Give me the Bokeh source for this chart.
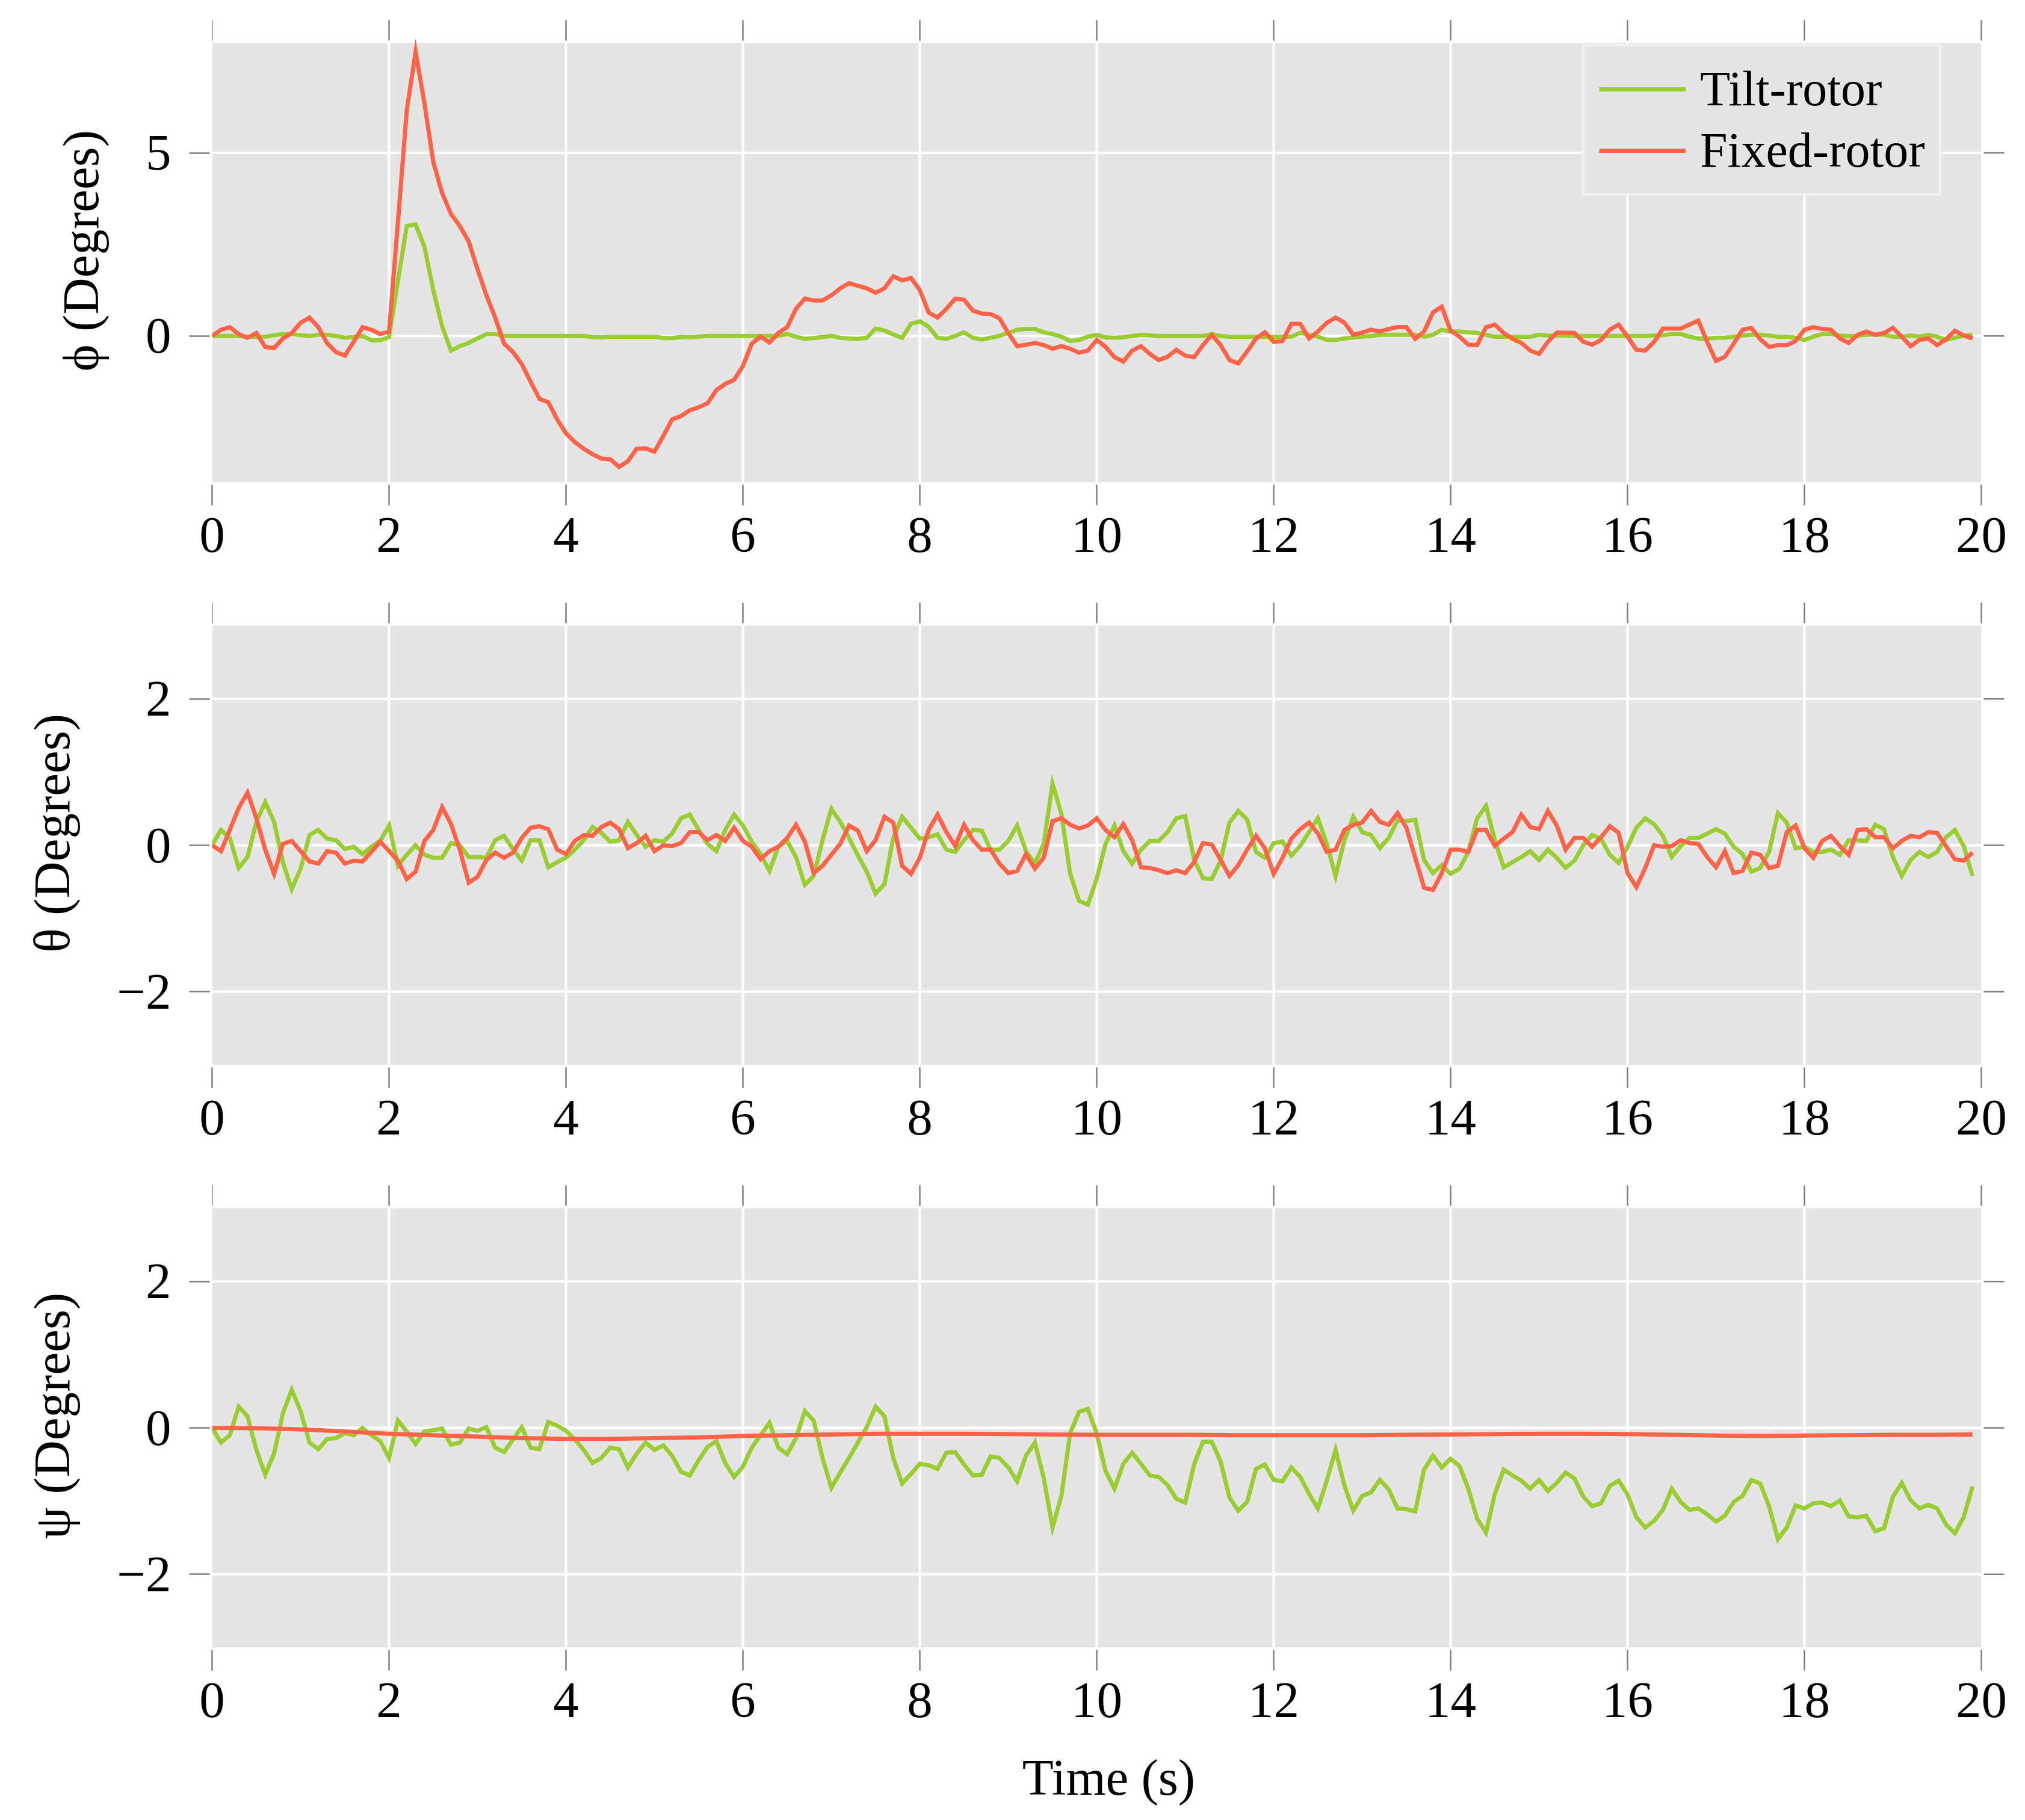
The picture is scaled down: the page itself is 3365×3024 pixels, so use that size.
from bokeh.plotting import figure
from bokeh.layouts import column
from bokeh.models import FixedTicker, Range1d
from bokeh.embed import file_html
from bokeh.resources import INLINE

# ---------------- data ----------------
time_s = [round(0.1 * i, 1) for i in range(200)]

x_limits = [0, 20]
x_ticks = [0, 2, 4, 6, 8, 10, 12, 14, 16, 18, 20]
x_tick_labels = ["0", "2", "4", "6", "8", "10", "12", "14", "16", "18", "20"]
phi_limits = [-4, 8]
phi_ticks = [0, 5]
phi_tick_labels = ["0", "5"]
angle_limits = [-3, 3]
angle_ticks = [-2, 0, 2]
angle_tick_labels = ["\u22122", "0", "2"]

series_names = ["Tilt-rotor", "Fixed-rotor"]

phi_tilt = [
    0.0, 0.0, 0.0, 0.0, -0.02, -0.03, -0.02, 0.02, 0.05, 0.05,
    0.02, 0.0, 0.03, 0.03, 0.0, -0.05, -0.03, 0.0, -0.12, -0.12,
    -0.03, 1.5, 3.0, 3.05, 2.43, 1.25, 0.26, -0.4, -0.28, -0.19,
    -0.07, 0.05, 0.05, 0.0, 0.0, 0.0, 0.0, 0.0, 0.0, 0.0,
    0.0, 0.0, 0.0, -0.03, -0.04, -0.02, -0.02, -0.02, -0.02, -0.02,
    -0.02, -0.06, -0.06, -0.03, -0.04, -0.02, 0.0, 0.0, 0.0, 0.0,
    0.0, 0.0, 0.0, 0.0, 0.0, 0.05, -0.02, -0.08, -0.06, -0.03,
    0.0, -0.05, -0.07, -0.08, -0.05, 0.2, 0.15, 0.04, -0.05, 0.33,
    0.4, 0.25, -0.05, -0.08, 0.0, 0.1, -0.05, -0.1, -0.05, 0.0,
    0.08, 0.17, 0.19, 0.19, 0.1, 0.05, -0.02, -0.14, -0.11, -0.02,
    0.03, -0.04, -0.05, -0.04, 0.0, 0.03, 0.02, 0.0, 0.0, 0.0,
    0.0, 0.0, 0.0, 0.05, 0.0, -0.02, -0.02, -0.02, -0.02, -0.02,
    -0.02, -0.02, -0.02, 0.09, 0.03, -0.02, -0.11, -0.11, -0.07, -0.04,
    -0.02, 0.0, 0.03, 0.03, 0.03, 0.03, 0.03, -0.02, 0.03, 0.17,
    0.12, 0.12, 0.1, 0.08, 0.03, -0.02, -0.02, -0.02, -0.02, -0.02,
    0.03, 0.01, 0.01, 0.01, 0.0, 0.0, 0.0, 0.0, 0.0, 0.0,
    0.0, 0.0, 0.0, 0.01, 0.02, 0.05, 0.05, -0.02, -0.07, -0.07,
    -0.05, -0.05, -0.02, 0.01, 0.03, 0.03, 0.01, -0.02, -0.02, -0.05,
    -0.11, -0.02, 0.05, 0.05, 0.01, 0.0, 0.0, 0.03, 0.03, 0.03,
    -0.02, -0.02, 0.01, -0.02, 0.03, -0.02, -0.11, -0.05, 0.01, 0.03,
]

phi_fixed = [
    0.0, 0.17, 0.24, 0.05, -0.05, 0.08, -0.3, -0.33, -0.07, 0.08,
    0.36, 0.5, 0.24, -0.2, -0.44, -0.54, -0.16, 0.24, 0.17, 0.05,
    0.12, 3.1, 6.16, 7.76, 6.35, 4.75, 3.9, 3.33, 3.0, 2.58,
    1.82, 1.11, 0.5, -0.21, -0.44, -0.77, -1.25, -1.72, -1.81, -2.28,
    -2.66, -2.9, -3.08, -3.23, -3.35, -3.37, -3.58, -3.42, -3.08, -3.07,
    -3.16, -2.73, -2.28, -2.19, -2.03, -1.95, -1.84, -1.48, -1.31, -1.2,
    -0.82, -0.21, -0.02, -0.18, 0.08, 0.24, 0.74, 1.02, 0.97, 0.97,
    1.11, 1.3, 1.44, 1.37, 1.3, 1.18, 1.3, 1.63, 1.52, 1.58,
    1.25, 0.64, 0.5, 0.74, 1.02, 0.99, 0.69, 0.61, 0.6, 0.48,
    0.08, -0.28, -0.24, -0.19, -0.25, -0.35, -0.28, -0.35, -0.46, -0.4,
    -0.11, -0.3, -0.58, -0.7, -0.4, -0.28, -0.49, -0.66, -0.57, -0.38,
    -0.54, -0.58, -0.25, 0.03, -0.25, -0.66, -0.75, -0.42, -0.07, 0.1,
    -0.16, -0.14, 0.33, 0.33, -0.07, 0.12, 0.36, 0.5, 0.36, 0.03,
    0.09, 0.17, 0.12, 0.19, 0.24, 0.24, -0.08, 0.12, 0.64, 0.8,
    0.14, -0.02, -0.24, -0.25, 0.24, 0.31, 0.08, -0.08, -0.19, -0.4,
    -0.49, -0.16, 0.09, 0.09, 0.08, -0.16, -0.24, -0.11, 0.17, 0.31,
    -0.02, -0.38, -0.4, -0.16, 0.2, 0.2, 0.2, 0.31, 0.42, -0.16,
    -0.68, -0.57, -0.21, 0.17, 0.22, -0.09, -0.3, -0.25, -0.25, -0.14,
    0.17, 0.24, 0.19, 0.17, -0.07, -0.19, 0.03, 0.12, 0.03, 0.08,
    0.22, -0.02, -0.28, -0.11, -0.07, -0.25, -0.09, 0.14, 0.01, -0.07,
]

theta_tilt = [
    0.0, 0.21, 0.1, -0.31, -0.16, 0.32, 0.59, 0.32, -0.23, -0.6,
    -0.32, 0.14, 0.21, 0.09, 0.07, -0.05, -0.02, -0.12, -0.02, 0.06,
    0.27, -0.28, -0.13, 0.0, -0.13, -0.17, -0.17, 0.03, 0.0, -0.16,
    -0.16, -0.17, 0.07, 0.13, -0.05, -0.21, 0.07, 0.07, -0.3, -0.23,
    -0.17, -0.06, 0.07, 0.25, 0.17, 0.05, 0.07, 0.32, 0.14, -0.02,
    0.07, 0.05, 0.16, 0.37, 0.42, 0.21, 0.02, -0.08, 0.21, 0.42,
    0.27, 0.05, -0.12, -0.35, -0.02, 0.06, -0.16, -0.54, -0.42, 0.07,
    0.5, 0.32, 0.1, -0.14, -0.36, -0.66, -0.53, 0.1, 0.39, 0.24,
    0.09, 0.11, 0.15, -0.06, -0.09, 0.07, 0.21, 0.2, -0.06, -0.06,
    0.06, 0.27, -0.08, -0.25, 0.02, 0.84, 0.43, -0.39, -0.76, -0.81,
    -0.45, 0.02, 0.27, -0.08, -0.25, -0.06, 0.06, 0.06, 0.18, 0.37,
    0.4, -0.19, -0.45, -0.46, -0.21, 0.31, 0.47, 0.35, -0.09, -0.17,
    0.03, 0.05, -0.14, -0.01, 0.18, 0.37, 0.02, -0.42, 0.07, 0.39,
    0.18, 0.14, -0.04, 0.1, 0.34, 0.33, 0.35, -0.2, -0.38, -0.27,
    -0.39, -0.32, -0.09, 0.37, 0.54, 0.07, -0.3, -0.23, -0.16, -0.08,
    -0.2, -0.06, -0.17, -0.31, -0.21, 0.0, 0.14, 0.09, -0.13, -0.24,
    -0.02, 0.24, 0.37, 0.29, 0.13, -0.16, -0.01, 0.1, 0.1, 0.16,
    0.22, 0.16, -0.02, -0.12, -0.36, -0.31, -0.09, 0.44, 0.31, -0.04,
    -0.02, -0.09, -0.09, -0.06, -0.13, 0.07, 0.07, 0.06, 0.28, 0.22,
    -0.16, -0.42, -0.2, -0.09, -0.16, -0.09, 0.11, 0.21, -0.01, -0.42,
]

theta_fixed = [
    0.0, -0.08, 0.21, 0.51, 0.72, 0.37, -0.06, -0.39, 0.02, 0.06,
    -0.08, -0.22, -0.25, -0.08, -0.1, -0.25, -0.21, -0.22, -0.09, 0.05,
    -0.08, -0.21, -0.46, -0.36, 0.06, 0.21, 0.52, 0.29, -0.06, -0.51,
    -0.43, -0.2, -0.1, -0.17, -0.1, 0.1, 0.24, 0.26, 0.22, -0.06,
    -0.12, 0.06, 0.14, 0.13, 0.25, 0.31, 0.22, -0.04, 0.03, 0.13,
    -0.08, 0.0, -0.01, 0.03, 0.18, 0.18, 0.07, 0.14, 0.06, 0.24,
    0.06, -0.02, -0.19, -0.08, -0.02, 0.1, 0.28, 0.05, -0.38, -0.28,
    -0.13, 0.02, 0.27, 0.2, -0.08, 0.07, 0.39, 0.31, -0.28, -0.39,
    -0.17, 0.21, 0.42, 0.18, -0.01, 0.28, 0.07, -0.06, -0.06, -0.25,
    -0.38, -0.35, -0.12, -0.32, -0.17, 0.33, 0.37, 0.28, 0.23, 0.27,
    0.37, 0.21, 0.11, 0.29, 0.07, -0.3, -0.31, -0.34, -0.38, -0.34,
    -0.38, -0.23, 0.03, 0.01, -0.2, -0.42, -0.27, -0.06, 0.13, -0.04,
    -0.39, -0.17, 0.09, 0.22, 0.31, 0.16, -0.09, -0.06, 0.21, 0.28,
    0.31, 0.47, 0.32, 0.28, 0.44, 0.24, -0.17, -0.58, -0.61, -0.38,
    -0.06, -0.06, -0.09, 0.21, 0.21, -0.01, 0.09, 0.18, 0.42, 0.25,
    0.22, 0.47, 0.27, -0.06, 0.1, 0.1, -0.02, 0.11, 0.26, 0.17,
    -0.38, -0.57, -0.31, 0.0, -0.02, -0.01, 0.07, 0.03, 0.02, -0.16,
    -0.3, -0.08, -0.38, -0.35, -0.1, -0.13, -0.31, -0.28, 0.18, 0.27,
    -0.04, -0.17, 0.06, 0.13, -0.01, -0.13, 0.21, 0.22, 0.11, 0.11,
    -0.04, 0.06, 0.13, 0.11, 0.18, 0.17, -0.01, -0.19, -0.21, -0.1,
]

psi_tilt = [
    0.0, -0.2, -0.1, 0.29, 0.16, -0.3, -0.64, -0.35, 0.2, 0.52,
    0.23, -0.2, -0.29, -0.15, -0.14, -0.07, -0.1, 0.0, -0.1, -0.18,
    -0.41, 0.1, -0.05, -0.22, -0.05, -0.03, -0.01, -0.23, -0.2, -0.01,
    -0.04, 0.01, -0.27, -0.33, -0.16, 0.01, -0.27, -0.29, 0.08, 0.03,
    -0.04, -0.16, -0.3, -0.48, -0.41, -0.27, -0.29, -0.54, -0.35, -0.2,
    -0.3, -0.24, -0.38, -0.6, -0.65, -0.44, -0.26, -0.18, -0.48, -0.67,
    -0.53, -0.27, -0.1, 0.07, -0.27, -0.36, -0.14, 0.23, 0.1, -0.41,
    -0.82, -0.61, -0.41, -0.2, 0.01, 0.29, 0.16, -0.41, -0.76, -0.63,
    -0.49, -0.51, -0.56, -0.34, -0.33, -0.5, -0.65, -0.64, -0.39, -0.41,
    -0.54, -0.73, -0.38, -0.2, -0.68, -1.36, -0.93, -0.07, 0.22, 0.26,
    -0.08, -0.59, -0.83, -0.49, -0.34, -0.49, -0.65, -0.67, -0.78, -0.97,
    -1.02, -0.5, -0.19, -0.19, -0.46, -0.95, -1.13, -1.01, -0.56, -0.5,
    -0.71, -0.73, -0.54, -0.67, -0.9, -1.1, -0.72, -0.3, -0.79, -1.13,
    -0.93, -0.88, -0.71, -0.84, -1.1, -1.11, -1.14, -0.57, -0.38, -0.54,
    -0.42, -0.52, -0.83, -1.24, -1.43, -0.9, -0.57, -0.65, -0.72, -0.83,
    -0.71, -0.86, -0.75, -0.61, -0.69, -0.94, -1.07, -1.03, -0.79, -0.72,
    -0.91, -1.22, -1.36, -1.27, -1.12, -0.83, -1.01, -1.12, -1.1, -1.18,
    -1.28, -1.2, -1.01, -0.93, -0.71, -0.76, -1.07, -1.52, -1.36, -1.06,
    -1.1, -1.03, -1.02, -1.07, -0.99, -1.21, -1.22, -1.2, -1.41, -1.37,
    -0.94, -0.75, -0.99, -1.1, -1.05, -1.1, -1.32, -1.44, -1.22, -0.8,
]

psi_fixed_time = [
    0.0, 0.5, 1.0, 1.5, 2.0, 2.5, 3.0, 3.5, 4.0, 4.5,
    5.0, 5.5, 6.0, 6.5, 7.0, 7.5, 8.0, 8.5, 9.0, 9.5,
    10.0, 10.5, 11.0, 11.5, 12.0, 12.5, 13.0, 13.5, 14.0, 14.5,
    15.0, 15.5, 16.0, 16.5, 17.0, 17.5, 18.0, 18.5, 19.0, 19.5, 19.9,
]
psi_fixed = [
    0.0, -0.005, -0.02, -0.05, -0.08, -0.1, -0.12, -0.14, -0.15, -0.15,
    -0.14, -0.13, -0.11, -0.1, -0.09, -0.08, -0.08, -0.08, -0.085, -0.09,
    -0.095, -0.095, -0.095, -0.1, -0.1, -0.1, -0.1, -0.095, -0.09, -0.085,
    -0.08, -0.08, -0.085, -0.095, -0.105, -0.11, -0.105, -0.1, -0.095, -0.095, -0.09,
]

# ---------------- styling ----------------
FONT = "Liberation Serif"
GREEN = "#9acd32"
RED = "#ff6347"
BG = "#e5e5e5"
TICK = "#808080"
LW = 7
DATA_W = 2940      # px of the grey data area
DATA_H = 730
EXT = 40           # px reserved inside the frame for the top / right ticks
TICK_GAP = 4
TICK_LEN = 34


def style_axis(ax, ticks, labels, standoff):
    ax.ticker = FixedTicker(ticks=ticks)
    ax.major_label_overrides = {t: l for t, l in zip(ticks, labels)}
    ax.axis_line_color = None
    ax.major_tick_in = -TICK_GAP
    ax.major_tick_out = TICK_GAP + TICK_LEN
    ax.major_tick_line_color = TICK
    ax.major_tick_line_width = 2.5
    ax.minor_tick_line_color = None
    ax.major_label_text_font = FONT
    ax.major_label_text_font_size = "85px"
    ax.major_label_text_color = "black"
    ax.major_label_standoff = standoff


def make_panel(ylabel, ylim, yticks, ylabels, bottom, xlabel=None):
    y0, y1 = ylim
    x0, x1 = x_limits
    px_x = DATA_W / (x1 - x0)
    px_y = DATA_H / (y1 - y0)
    p = figure(frame_width=DATA_W + EXT, frame_height=DATA_H + EXT,
               x_range=Range1d(x0, x1 + EXT / px_x),
               y_range=Range1d(y0, y1 + EXT / px_y),
               output_backend="svg", toolbar_location=None,
               min_border_left=352, min_border_right=20,
               min_border_top=31, min_border_bottom=bottom,
               background_fill_color="white", border_fill_color="white",
               outline_line_color=None)
    p.grid.visible = False
    xa = p.xaxis[0]
    ya = p.yaxis[0]
    style_axis(xa, x_ticks, x_tick_labels, 21)
    style_axis(ya, yticks, ylabels, 30)
    ya.axis_label = ylabel
    ya.axis_label_text_font = FONT
    ya.axis_label_text_font_size = "85px"
    ya.axis_label_text_font_style = "normal"
    ya.axis_label_text_color = "black"
    ya.axis_label_standoff = 58
    if xlabel:
        xa.axis_label = xlabel
        xa.axis_label_text_font = FONT
        xa.axis_label_text_font_size = "85px"
        xa.axis_label_text_font_style = "normal"
        xa.axis_label_text_color = "black"
        xa.axis_label_standoff = 50

    # grey data area
    p.quad(left=[x0], right=[x1], bottom=[y0], top=[y1],
           fill_color=BG, line_color=None)
    # white grid lines at the inner ticks
    gx = [t for t in x_ticks if x0 < t < x1]
    gy = [t for t in yticks if y0 < t < y1]
    p.segment(x0=gx, y0=[y0] * len(gx), x1=gx, y1=[y1] * len(gx),
              line_color="white", line_width=4)
    p.segment(x0=[x0] * len(gy), y0=gy, x1=[x1] * len(gy), y1=gy,
              line_color="white", line_width=4)
    # ticks on the top and right sides
    ty0 = y1 + TICK_GAP / px_y
    ty1 = y1 + (TICK_GAP + TICK_LEN) / px_y
    p.segment(x0=x_ticks, y0=[ty0] * len(x_ticks), x1=x_ticks,
              y1=[ty1] * len(x_ticks), line_color=TICK, line_width=2.5)
    tx0 = x1 + TICK_GAP / px_x
    tx1 = x1 + (TICK_GAP + TICK_LEN) / px_x
    p.segment(x0=[tx0] * len(yticks), y0=yticks, x1=[tx1] * len(yticks),
              y1=yticks, line_color=TICK, line_width=2.5)
    return p


p1 = make_panel("\u03d5 (Degrees)", phi_limits, phi_ticks, phi_tick_labels, 167)
p1.line(time_s, phi_tilt, line_color=GREEN, line_width=LW, line_join="miter",
        legend_label=series_names[0])
p1.line(time_s, phi_fixed, line_color=RED, line_width=LW, line_join="miter",
        legend_label=series_names[1])
lg = p1.legend[0]
lg.location = (2277, 476)
lg.margin = 0
lg.padding = 24
lg.spacing = 8
lg.label_text_font = FONT
lg.label_text_font_size = "82px"
lg.label_text_color = "black"
lg.label_height = 80
lg.glyph_height = 80
lg.glyph_width = 144
lg.label_standoff = 24
lg.border_line_color = "white"
lg.border_line_width = 4
lg.background_fill_color = BG
lg.background_fill_alpha = 1.0

p2 = make_panel("\u03b8 (Degrees)", angle_limits, angle_ticks, angle_tick_labels, 167)
p2.line(time_s, theta_tilt, line_color=GREEN, line_width=LW, line_join="miter")
p2.line(time_s, theta_fixed, line_color=RED, line_width=LW, line_join="miter")

p3 = make_panel("\u03c8 (Degrees)", angle_limits, angle_ticks, angle_tick_labels, 270,
                xlabel="Time (s)")
p3.line(time_s, psi_tilt, line_color=GREEN, line_width=LW, line_join="miter")
p3.line(psi_fixed_time, psi_fixed, line_color=RED, line_width=LW, line_join="miter")

layout = column(p1, p2, p3)
open("out.html", "w").write(file_html(layout, INLINE))
